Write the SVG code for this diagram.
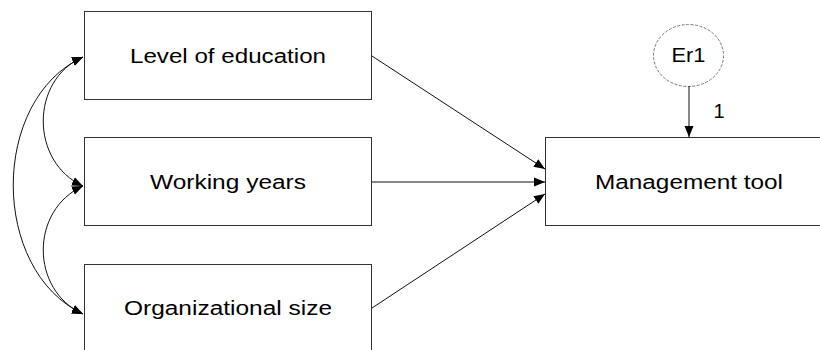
<svg xmlns="http://www.w3.org/2000/svg" width="820" height="350" viewBox="0 0 820 350">
<defs>
<marker id="ah" markerUnits="userSpaceOnUse" markerWidth="12" markerHeight="10" refX="11" refY="5" orient="auto-start-reverse" viewBox="0 0 12 10">
<path d="M0,0.5 L11,5 L0,9.5 Z" fill="#000"/>
</marker>
</defs>
<style>
.box{fill:#fff;stroke:#333;stroke-width:1}
.lbl{font-family:"Liberation Sans",Arial,sans-serif;font-size:20px;fill:#000;text-anchor:middle}
.ln{fill:none;stroke:#111;stroke-width:1}
</style>
<rect width="820" height="350" fill="#fff"/>
<g id="n-education"><rect class="box" x="84.5" y="11.5" width="287" height="88"/><text class="lbl" x="228" y="63" textLength="196" lengthAdjust="spacingAndGlyphs">Level of education</text></g>
<g id="n-working"><rect class="box" x="84.5" y="137.5" width="287" height="88"/><text class="lbl" x="228" y="189" textLength="156" lengthAdjust="spacingAndGlyphs">Working years</text></g>
<g id="n-orgsize"><rect class="box" x="84.5" y="264.5" width="287" height="88"/><text class="lbl" x="228" y="315" textLength="208" lengthAdjust="spacingAndGlyphs">Organizational size</text></g>
<g id="n-mgmt"><rect class="box" x="545.5" y="137.5" width="288" height="88"/><text class="lbl" x="689" y="189" textLength="188" lengthAdjust="spacingAndGlyphs">Management tool</text></g>
<g id="n-er1"><ellipse cx="688.5" cy="55.5" rx="35" ry="31" fill="#fff" stroke="#777" stroke-width="1" stroke-dasharray="3 1.5"/><text class="lbl" x="688.5" y="62" textLength="34" lengthAdjust="spacingAndGlyphs">Er1</text></g>
<g id="connectors">
<path class="ln" d="M372,56 L545,169" marker-end="url(#ah)"/>
<path class="ln" d="M372,182 L545,182" stroke="#666" marker-end="url(#ah)"/>
<path class="ln" d="M372,308 L545,194" marker-end="url(#ah)"/>
<path class="ln" d="M689,86 L689,137" stroke="#666" marker-end="url(#ah)"/>
<path class="ln" d="M83,57 C30,80 30,162 83,186" marker-start="url(#ah)" marker-end="url(#ah)"/>
<path class="ln" d="M83,186 C30,210 30,290 83,314" marker-start="url(#ah)" marker-end="url(#ah)"/>
<path class="ln" d="M83,57 C-10,100 -10,270 83,314" marker-start="url(#ah)" marker-end="url(#ah)"/>
<text class="lbl" x="719" y="118">1</text>
</g>
</svg>
